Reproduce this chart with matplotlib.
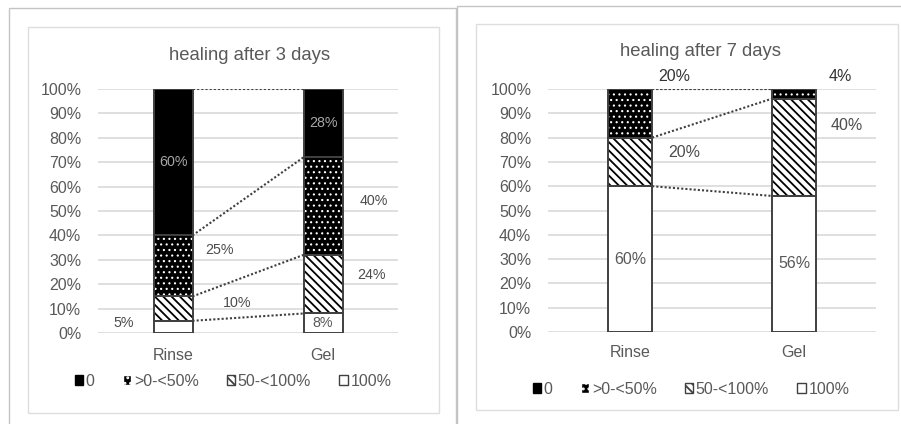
import matplotlib
matplotlib.use('Agg')
import matplotlib.pyplot as plt
from matplotlib.patches import Patch, Rectangle

plt.rcParams['font.family'] = ['Liberation Sans', 'DejaVu Sans']
plt.rcParams['hatch.linewidth'] = 1.3

CATEGORIES = ['Rinse', 'Gel']
GRADES = ['0', '>0-<50%', '50-<100%', '100%']   # legend order, top of stack first

# healing grade shares (%) per treatment, after 3 days
DAY3_G0 = [60, 28]
DAY3_G0_50 = [25, 40]
DAY3_G50_100 = [10, 24]
DAY3_G100 = [5, 8]

# ... and after 7 days
DAY7_G0 = [0, 0]
DAY7_G0_50 = [20, 4]
DAY7_G50_100 = [20, 40]
DAY7_G100 = [60, 56]

W, H = 901, 424
TXT = '#595959'
EDGE = '#404040'

# fill style per grade: (face, hatch, hatch colour, hatch line width)
STYLE = {
    '0': ('black', None, 'black', 1.3),
    '>0-<50%': ('black', '...', 'white', 0.8),
    '50-<100%': ('white', '\\\\\\\\', 'black', 1.3),
    '100%': ('white', None, 'white', 1.3),
}

# where the moved data labels sit (x in category units, y in %); None = centred in segment
LABELS_3 = {
    (0, '0'): None, (0, '>0-<50%'): (0.31, 34), (0, '50-<100%'): (0.43, 12.3), (0, '100%'): (-0.33, 4.2),
    (1, '0'): None, (1, '>0-<50%'): (1.34, 54), (1, '50-<100%'): (1.32, 23.8), (1, '100%'): None,
}
LABELS_7 = {
    (0, '>0-<50%'): (0.27, 105.3), (0, '50-<100%'): (0.33, 73.7), (0, '100%'): None,
    (1, '>0-<50%'): (1.28, 105.3), (1, '50-<100%'): (1.32, 84.8), (1, '100%'): None,
}


def fpx(x, y):
    return x / W, 1 - y / H


def thin_hatch(patch, lw):
    if hasattr(patch, 'set_hatch_linewidth'):
        patch.set_hatch_linewidth(lw)


def draw_panel(ax, title, data, labels, width, label_size, title_xy, legend_xy, xpad):
    ax.set_xlim(-0.5, 1.5)
    ax.set_ylim(0, 100)
    for s in ax.spines.values():
        s.set_visible(False)
    ax.set_yticks(range(0, 101, 10))
    ax.set_yticklabels(['%d%%' % v for v in range(0, 101, 10)])
    ax.yaxis.grid(True, color='#d9d9d9', lw=1.2)
    ax.set_axisbelow(True)
    ax.set_xticks([0, 1])
    ax.set_xticklabels(CATEGORIES)
    ax.tick_params(axis='y', length=0, pad=12, labelsize=11.5, labelcolor=TXT)
    ax.tick_params(axis='x', length=0, pad=xpad, labelsize=11.5, labelcolor=TXT)

    # stack from the bottom: 100%, 50-<100%, >0-<50%, 0
    bottom = [0, 0]
    tops = {}
    for grade in reversed(GRADES):
        vals = data[grade]
        face, hatch, hcol, hlw = STYLE[grade]
        bars = ax.bar([0, 1], vals, width, bottom=bottom, color=face, hatch=hatch,
                      edgecolor=hcol, lw=0, zorder=2)
        for p in bars:
            thin_hatch(p, hlw)
        ax.bar([0, 1], vals, width, bottom=bottom, fill=False, edgecolor=EDGE,
               lw=1.4, zorder=3)
        for i in range(2):
            if vals[i] == 0 or (i, grade) not in labels:
                continue
            pos = labels[(i, grade)]
            if pos is None:
                pos = (i, bottom[i] + vals[i] / 2.0)
                col = '#a6a6a6' if face == 'black' else TXT
            else:
                col = '#333333' if pos[1] > 100 else '#4d4d4d'
            ax.text(pos[0], pos[1], '%d%%' % vals[i], ha='center', va='center',
                    fontsize=label_size, color=col, zorder=5)
        bottom = [bottom[i] + vals[i] for i in range(2)]
        tops[grade] = list(bottom)

    # series lines between the stacks
    for grade in GRADES:
        ax.plot([width / 2, 1 - width / 2], tops[grade], ls=(0, (1, 1)),
                color=EDGE, lw=1.5, zorder=4)

    fig.text(*fpx(*title_xy), title, ha='center', va='center', fontsize=13.3, color=TXT)

    handles = []
    for grade in GRADES:
        face, hatch, hcol, hlw = STYLE[grade]
        ec = hcol if face == 'black' else EDGE
        h = Patch(facecolor=face, hatch=hatch, edgecolor=ec, lw=1)
        thin_hatch(h, hlw)
        handles.append(h)
    ax.legend(handles, GRADES, loc='center', bbox_to_anchor=fpx(*legend_xy),
              bbox_transform=fig.transFigure, ncol=4, frameon=False, fontsize=11.5,
              labelcolor=TXT, handlelength=0.55, handleheight=0.55,
              handletextpad=0.15, columnspacing=1.75)


fig = plt.figure(figsize=(W / 100, H / 100), dpi=100)

# page frames and chart-area boxes
for (x0, y0, x1, y1), col in [((9, 8, 456, 440), '#c4c4c4'), ((457, 6, 910, 440), '#c4c4c4'),
                              ((28, 27, 439, 413), '#dedede'), ((476, 24, 898, 410), '#dedede')]:
    fig.add_artist(Rectangle(fpx(x0, y1), (x1 - x0) / W, (y1 - y0) / H, fill=False,
                             edgecolor=col, lw=1.0, transform=fig.transFigure))

ax1 = fig.add_axes([98 / W, 1 - 333 / H, 300 / W, 244 / H])
ax2 = fig.add_axes([548 / W, 1 - 332 / H, 328 / W, 243 / H])

day3 = {'0': DAY3_G0, '>0-<50%': DAY3_G0_50, '50-<100%': DAY3_G50_100, '100%': DAY3_G100}
day7 = {'0': DAY7_G0, '>0-<50%': DAY7_G0_50, '50-<100%': DAY7_G50_100, '100%': DAY7_G100}

draw_panel(ax1, 'healing after 3 days', day3, LABELS_3, 0.26, 10.3, (250, 55), (233, 381), 11)
draw_panel(ax2, 'healing after 7 days', day7, LABELS_7, 0.27, 11.5, (700, 52), (691, 389), 9.5)

fig.savefig('out.png', dpi=100)
